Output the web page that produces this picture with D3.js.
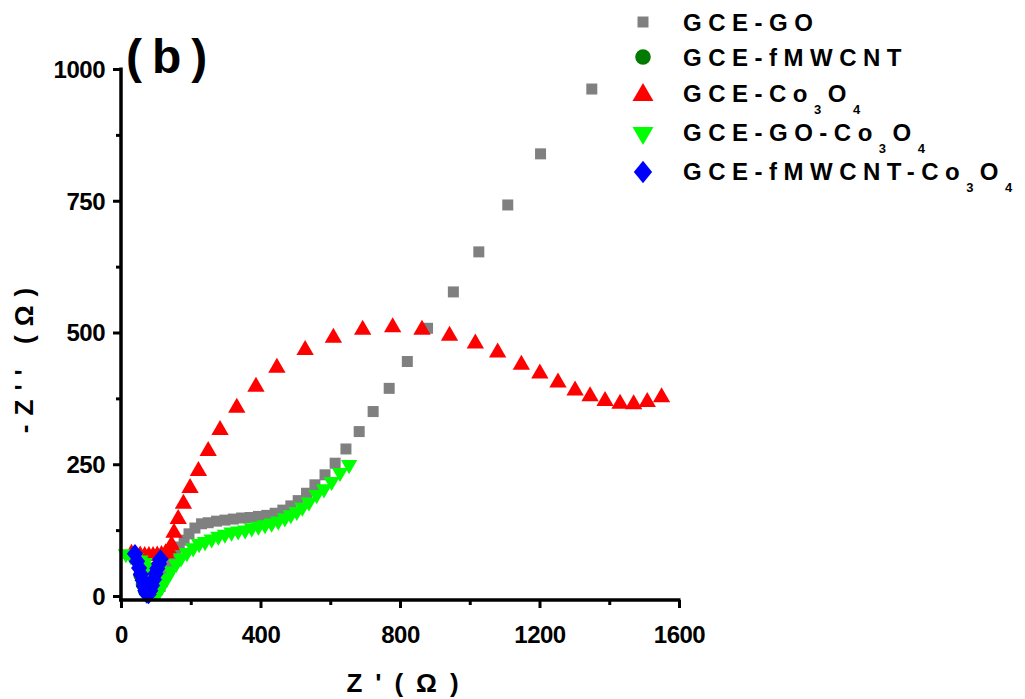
<!DOCTYPE html>
<html>
<head>
<meta charset="utf-8">
<script src="https://cdn.jsdelivr.net/npm/d3@7"></script>
<style>
  html, body { margin: 0; padding: 0; background: #fff; }
  svg { display: block; }
  text { font-family: "Liberation Sans", Arial, sans-serif; font-weight: bold; fill: #000; }
</style>
</head>
<body>
<svg id="chart" width="1025" height="699"></svg>
<script>
// Nyquist plots: Z' (x) vs -Z'' (y), both in ohm.
const seriesNames = ["GCE-GO", "GCE-fMWCNT", "GCE-Co3O4", "GCE-GO-Co3O4", "GCE-fMWCNT-Co3O4"];

const goZre = [95, 105, 112, 118, 122, 128, 136, 145, 156, 167, 181, 195, 212, 231, 250, 274, 298, 322, 346, 370, 394, 418, 442, 464, 487, 508, 532, 556, 585, 614, 645, 683, 723, 769, 821, 879, 953, 1026, 1109, 1203, 1350];
const goZim = [8, 12, 18, 27, 34, 42, 54, 67, 80, 93, 106, 118, 129, 137, 139, 142, 144, 146, 148, 149, 151, 153, 157, 163, 171, 181, 195, 211, 230, 252, 279, 312, 350, 394, 445, 508, 577, 653, 742, 839, 962];

const cntZre = [55, 62, 68, 74, 80, 88, 96];
const cntZim = [40, 22, 10, 6, 10, 24, 42];

const coZre = [30, 42, 55, 68, 80, 92, 104, 116, 128, 138, 145, 152, 164, 179, 198, 222, 250, 284, 332, 387, 447, 528, 609, 693, 779, 863, 942, 1016, 1080, 1148, 1201, 1253, 1302, 1345, 1388, 1431, 1470, 1509, 1550];
const coZim = [80, 78, 77, 76, 76, 76, 77, 78, 81, 87, 97, 120, 146, 175, 205, 237, 275, 315, 357, 397, 433, 467, 490, 505, 510, 505, 494, 479, 462, 439, 422, 405, 390, 379, 370, 365, 364, 368, 377];

const goCoZre = [14, 28, 42, 56, 68, 78, 84, 88, 92, 96, 102, 110, 120, 132, 143, 158, 172, 189, 207, 224, 241, 260, 279, 298, 317, 336, 356, 375, 394, 413, 432, 451, 470, 487, 504, 520, 539, 561, 582, 604, 628, 654];
const goCoZim = [80, 76, 72, 68, 63, 55, 44, 32, 20, 11, 7, 10, 21, 34, 47, 61, 72, 82, 91, 99, 103, 108, 113, 117, 121, 123, 125, 129, 132, 135, 138, 142, 148, 154, 160, 168, 178, 192, 203, 217, 234, 249];

const cntCoZre = [40, 46, 52, 57, 62, 66, 70, 74, 79, 84, 89, 94, 99, 104, 109, 113];
const cntCoZim = [80, 66, 53, 41, 30, 19, 10, 4, 3, 10, 20, 31, 42, 52, 61, 70];

const xTicks = [0, 400, 800, 1200, 1600];
const xMinor = [200, 600, 1000, 1400];
const yTicks = [0, 250, 500, 750, 1000];
const yMinor = [125, 375, 625, 875];

const svg = d3.select("#chart");
const x = d3.scaleLinear().domain([0, 1600]).range([121, 679]);
const y = d3.scaleLinear().domain([0, 1000]).range([596, 69]);

// diamond a bit wider than d3's built-in one
const wideDiamond = {
  draw(ctx, size) {
    const h = Math.sqrt(size / 0.8) / 2 * 1.1;
    const w = h * 0.82;
    ctx.moveTo(0, -h); ctx.lineTo(w, 0); ctx.lineTo(0, h); ctx.lineTo(-w, 0); ctx.closePath();
  }
};

const styles = [
  { name: seriesNames[0], xs: goZre, ys: goZim, type: d3.symbolSquare, size: 121, color: "#808080", rot: 0 },
  { name: seriesNames[1], xs: cntZre, ys: cntZim, type: d3.symbolCircle, size: 150, color: "#007a00", rot: 0 },
  { name: seriesNames[2], xs: coZre, ys: coZim, type: d3.symbolTriangle, size: 130, color: "#ff0000", rot: 0 },
  { name: seriesNames[3], xs: goCoZre, ys: goCoZim, type: d3.symbolTriangle, size: 115, color: "#00ff00", rot: 180 },
  { name: seriesNames[4], xs: cntCoZre, ys: cntCoZim, type: wideDiamond, size: 260, color: "#0000ff", rot: 0 }
];

const plot = svg.append("g");
styles.forEach(s => {
  const pts = s.xs.map((v, i) => [v, s.ys[i]]);
  plot.append("g").selectAll("path").data(pts).join("path")
    .attr("d", d3.symbol().type(s.type).size(s.size))
    .attr("transform", d => `translate(${x(d[0])},${y(d[1])}) rotate(${s.rot})`)
    .attr("fill", s.color);
});

// axes
const axisW = 3.5;
const xAxisY = 600;
const gx = svg.append("g").attr("transform", `translate(0,${xAxisY})`);
gx.call(d3.axisBottom(x).tickValues(xTicks).tickSize(8).tickSizeOuter(0).tickFormat(d3.format("d")));
const gxm = svg.append("g").attr("transform", `translate(0,${xAxisY})`);
gxm.call(d3.axisBottom(x).tickValues(xMinor).tickSize(5).tickSizeOuter(0).tickFormat(""));
gxm.select(".domain").remove();
[gx, gxm].forEach(g => {
  g.selectAll("line").attr("stroke", "#000").attr("stroke-width", 3);
});
gx.select(".domain").attr("stroke", "#000").attr("stroke-width", axisW).attr("d", `M${x(0) - 2},0H${x(1600) + 1.5}`);
gx.selectAll("text").attr("font-size", 24).attr("dy", null).attr("y", 43).attr("letter-spacing", -0.5);

const gy = svg.append("g").attr("transform", `translate(${x(0)},0)`);
gy.call(d3.axisLeft(y).tickValues(yTicks).tickSize(8).tickSizeOuter(0).tickFormat(d3.format("d")));
const gym = svg.append("g").attr("transform", `translate(${x(0)},0)`);
gym.call(d3.axisLeft(y).tickValues(yMinor).tickSize(5).tickSizeOuter(0).tickFormat(""));
gym.select(".domain").remove();
[gy, gym].forEach(g => {
  g.selectAll("line").attr("stroke", "#000").attr("stroke-width", 3);
});
gy.select(".domain").attr("stroke", "#000").attr("stroke-width", axisW).attr("d", `M0,${y(1000) - 1.5}V${xAxisY}`);
gy.selectAll("text").attr("font-size", 24).attr("x", -16).attr("dy", "0.35em").attr("letter-spacing", -0.5);
svg.selectAll(".domain").attr("fill", "none");

// axis titles
svg.append("text").attr("x", 409).attr("y", 692).attr("text-anchor", "middle")
  .attr("font-size", 26).attr("letter-spacing", 13).text("Z'(Ω)");
svg.append("text").attr("transform", "translate(33,356) rotate(-90)").attr("text-anchor", "middle")
  .attr("font-size", 26).attr("letter-spacing", 9).text("-Z'' (Ω)");

// panel label
svg.append("text").attr("x", 126).attr("y", 73).attr("font-size", 48).attr("letter-spacing", 10).text("(b)");

// legend
const legendY = [22, 57, 93, 133, 172];
const legendBase = [31, 66, 102, 141, 180];
const legend = svg.append("g");
styles.forEach((s, i) => {
  legend.append("path")
    .attr("d", d3.symbol().type(s.type).size(i === 2 ? 190 : i === 3 ? 190 : i === 4 ? 330 : i === 1 ? 190 : 121)())
    .attr("transform", `translate(643,${legendY[i] + (i === 2 ? 2 : 0)}) rotate(${s.rot})`)
    .attr("fill", s.color);
  const t = legend.append("text").attr("x", 683).attr("y", legendBase[i])
    .attr("font-size", 24).attr("letter-spacing", 6.5);
  // split subscripts out of the chemical formula
  const parts = s.name.split(/(\d)/).filter(p => p.length);
  parts.forEach(p => {
    if (/\d/.test(p)) {
      t.append("tspan").attr("font-size", 13).attr("dy", 12).text(p);
    } else {
      const ts = t.append("tspan").text(p);
      if (t.selectAll("tspan").size() > 1) ts.attr("dy", -12);
    }
  });
});
</script>
</body>
</html>
